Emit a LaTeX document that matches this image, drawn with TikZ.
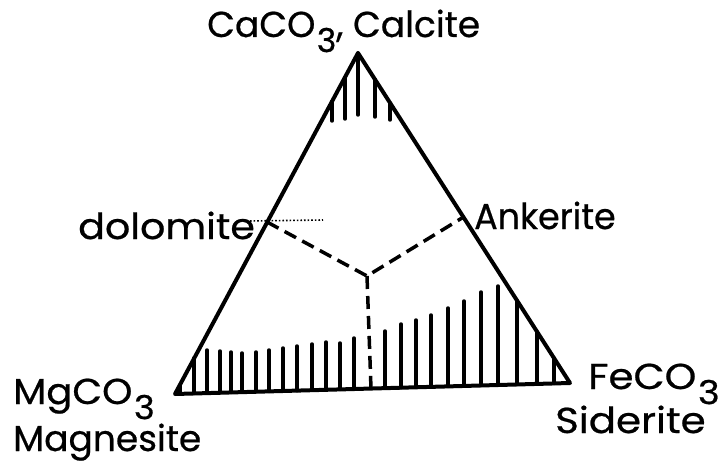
\documentclass[tikz,border=0pt]{standalone}
\usepackage{fontspec}
\setmainfont{Poppins}
\newfontfamily\lblfont[FakeBold=0.6]{Poppins}
\newcommand{\subthree}{\hspace{0.04em}\raisebox{-0.42em}{\fontsize{33}{33}\selectfont 3}}
\newcommand{\xwide}[2]{\scalebox{#1}[1]{#2}}
\begin{document}
\begin{tikzpicture}[x=1pt,y=-1pt,
  edge/.style={line width=4pt,line cap=round,line join=round},
  hatch/.style={line width=3.5pt,line cap=round},
  dashline/.style={line width=3.5pt,dash pattern=on 13pt off 7pt},
  lbl/.style={font=\lblfont\fontsize{36}{38}\selectfont,inner sep=0pt}]
\useasboundingbox (0,0) rectangle (719,465);
\coordinate (A) at (358,53);
\coordinate (B) at (175,394);
\coordinate (C) at (570,383);
\coordinate (D) at (267,222);
\coordinate (E) at (462,218);
\coordinate (O) at (367,276);
\coordinate (F) at (371,388.5);
\coordinate (Dl) at (250,221);
\coordinate (Dr) at (323,220);
% hatching near apex
\foreach \x/\yt/\yb in {332/101.4/121,345/77.2/119,358/53/115,375/79.5/117,390/102.8/120}
  \draw[hatch] (\x,\yt) -- (\x,\yb);
% hatching along base
\foreach \x/\yt in {180/385,194/358,207/350,220/351,231/352,242/353,256/352,269/350,283/348,297/346,312/344,326/342,340/343,354/338,
  385/331,401/324,416/320,431/315,448/308,464/301,481/292,498/286,517/300.5,537/331.6,554/358}
  \draw[hatch] (\x,\yt) -- (\x,{394-(\x-175)*11/395});
% triangle
\draw[edge] (A) -- (B) -- (C) -- cycle;
% dashed boundaries
\draw[dashline] (D) -- (O) -- (E);
\draw[dashline] (O) -- (F);
\draw[line width=1.6pt,dotted] (Dl) -- (Dr);
% labels
\node[lbl,anchor=base west] (ca) at (207,37) {\xwide{1.0}{CaCO\subthree, Calcite}};
\node[lbl,anchor=base west] (dol) at (78,239) {\xwide{1.1}{dolomite}};
\node[lbl,anchor=base west] (ank) at (474,229) {\xwide{0.97}{Ankerite}};
\node[lbl,anchor=base west] (mg) at (13,404) {\xwide{1.07}{MgCO\subthree}};
\node[lbl,anchor=base west] (mgn) at (13,451) {\xwide{1.0}{Magnesite}};
\node[lbl,anchor=base west] (fe) at (588,389) {\xwide{1.12}{FeCO\subthree}};
\node[lbl,anchor=base west] (sid) at (555,433) {\xwide{1.12}{Siderite}};
\end{tikzpicture}
\end{document}
